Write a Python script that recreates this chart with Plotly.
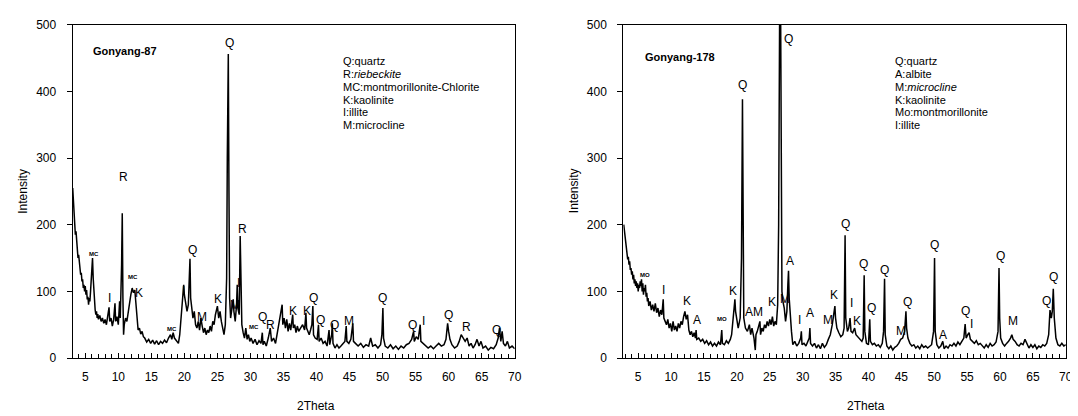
import plotly.graph_objects as go

# ---------------- data: Gonyang-87 (2theta, intensity) ----------------
scan_87 = [
    (3.1, 255), (3.2, 240), (3.3, 215), (3.4, 200), (3.5, 185), (3.6, 190), (3.7, 170), (3.8, 165),
    (3.9, 150), (4.0, 155), (4.1, 140), (4.2, 135), (4.3, 125), (4.4, 128), (4.5, 115), (4.6, 118),
    (4.7, 105), (4.8, 110), (4.9, 100), (5.0, 108), (5.1, 95), (5.2, 102), (5.3, 88), (5.4, 92),
    (5.5, 80), (5.6, 90), (5.7, 85), (5.8, 100), (5.9, 115), (6.0, 135), (6.1, 150), (6.2, 120),
    (6.3, 95), (6.4, 80), (6.5, 72), (6.6, 65), (6.7, 70), (6.8, 60), (6.9, 66), (7.0, 58),
    (7.2, 64), (7.4, 55), (7.6, 60), (7.8, 52), (8.0, 58), (8.2, 50), (8.4, 62), (8.6, 76),
    (8.7, 55), (8.9, 60), (9.1, 48), (9.3, 58), (9.5, 82), (9.6, 55), (9.8, 62), (10.0, 50),
    (10.2, 85), (10.3, 60), (10.5, 140), (10.6, 217), (10.7, 90), (10.8, 35), (10.9, 50), (11.1, 60),
    (11.3, 55), (11.5, 70), (11.7, 80), (11.9, 95), (12.1, 105), (12.3, 98), (12.5, 102), (12.6, 90),
    (12.7, 70), (12.8, 55), (13.0, 42), (13.2, 45), (13.4, 36), (13.6, 40), (13.8, 32), (14.0, 30),
    (14.3, 24), (14.6, 28), (14.9, 22), (15.2, 27), (15.5, 21), (15.8, 26), (16.1, 20), (16.4, 25),
    (16.7, 22), (17.0, 27), (17.3, 23), (17.6, 30), (17.9, 35), (18.1, 28), (18.3, 38), (18.5, 30),
    (18.8, 25), (19.1, 22), (19.3, 35), (19.5, 60), (19.7, 85), (19.9, 110), (20.0, 95), (20.2, 78),
    (20.4, 70), (20.6, 80), (20.8, 120), (20.85, 149), (20.95, 90), (21.1, 75), (21.3, 60), (21.5, 70),
    (21.7, 50), (21.9, 45), (22.1, 55), (22.3, 42), (22.5, 60), (22.7, 48), (22.9, 38), (23.1, 45),
    (23.3, 35), (23.5, 42), (23.7, 38), (23.9, 48), (24.1, 40), (24.3, 55), (24.5, 50), (24.7, 65),
    (24.9, 72), (25.0, 78), (25.2, 60), (25.4, 70), (25.6, 55), (25.8, 45), (26.0, 35), (26.2, 50),
    (26.4, 120), (26.5, 300), (26.65, 456), (26.75, 250), (26.85, 90), (27.0, 60), (27.2, 75), (27.4, 88),
    (27.5, 70), (27.7, 55), (27.9, 80), (28.0, 110), (28.1, 75), (28.3, 65), (28.45, 183), (28.55, 100),
    (28.7, 50), (28.9, 38), (29.1, 30), (29.3, 45), (29.5, 28), (29.7, 35), (29.9, 25), (30.1, 30),
    (30.4, 22), (30.7, 28), (31.0, 20), (31.3, 26), (31.6, 22), (31.8, 38), (31.9, 20), (32.1, 25),
    (32.4, 18), (32.7, 30), (33.0, 45), (33.2, 25), (33.5, 30), (33.8, 22), (34.1, 40), (34.4, 55),
    (34.6, 70), (34.8, 80), (34.9, 50), (35.1, 60), (35.3, 45), (35.5, 58), (35.7, 40), (35.9, 52),
    (36.1, 42), (36.4, 65), (36.5, 45), (36.7, 50), (36.9, 38), (37.1, 48), (37.3, 40), (37.6, 45),
    (37.9, 50), (38.2, 42), (38.4, 68), (38.5, 45), (38.7, 40), (38.9, 35), (39.1, 42), (39.3, 50),
    (39.45, 78), (39.55, 35), (39.8, 30), (40.1, 28), (40.3, 50), (40.4, 25), (40.7, 30), (41.0, 22),
    (41.3, 25), (41.6, 18), (41.9, 42), (42.0, 20), (42.3, 35), (42.4, 52), (42.5, 22), (42.8, 15),
    (43.1, 20), (43.4, 15), (43.7, 18), (44.0, 22), (44.3, 25), (44.5, 48), (44.6, 25), (44.9, 22),
    (45.2, 28), (45.5, 52), (45.6, 25), (45.9, 22), (46.3, 18), (46.7, 22), (47.1, 16), (47.5, 20),
    (47.9, 18), (48.2, 30), (48.5, 18), (48.9, 20), (49.3, 15), (49.7, 20), (49.9, 35), (50.05, 75),
    (50.15, 30), (50.4, 18), (50.8, 15), (51.2, 20), (51.6, 14), (52.0, 18), (52.4, 13), (52.8, 18),
    (53.2, 15), (53.6, 20), (54.0, 22), (54.4, 28), (54.7, 40), (54.8, 25), (55.1, 32), (55.4, 28),
    (55.7, 50), (55.8, 25), (56.1, 22), (56.5, 18), (56.9, 15), (57.3, 18), (57.7, 14), (58.1, 18),
    (58.5, 22), (58.9, 18), (59.3, 20), (59.6, 28), (59.85, 52), (60.0, 40), (60.2, 28), (60.5, 20),
    (60.9, 15), (61.3, 18), (61.6, 25), (61.9, 35), (62.2, 30), (62.5, 25), (62.8, 30), (63.1, 18),
    (63.4, 22), (63.7, 15), (64.0, 20), (64.3, 28), (64.6, 18), (64.9, 25), (65.2, 15), (65.6, 18),
    (66.0, 12), (66.4, 16), (66.8, 14), (67.2, 20), (67.5, 30), (67.7, 45), (67.9, 25), (68.1, 40),
    (68.3, 22), (68.6, 18), (68.9, 25), (69.2, 15), (69.6, 18), (70.0, 14),
]

# ---------------- data: Gonyang-178 (2theta, intensity) ----------------
scan_178 = [
    (2.8, 200), (2.9, 190), (3.0, 180), (3.1, 170), (3.2, 165), (3.3, 160), (3.4, 148), (3.5, 152),
    (3.6, 140), (3.7, 145), (3.8, 132), (3.9, 135), (4.0, 125), (4.1, 130), (4.2, 118), (4.3, 125),
    (4.4, 112), (4.5, 118), (4.6, 108), (4.7, 115), (4.8, 105), (4.9, 112), (5.0, 100), (5.1, 110),
    (5.2, 105), (5.3, 115), (5.4, 108), (5.5, 118), (5.6, 100), (5.7, 112), (5.8, 95), (5.9, 105),
    (6.0, 100), (6.1, 110), (6.2, 92), (6.3, 98), (6.4, 85), (6.5, 90), (6.6, 78), (6.8, 85),
    (7.0, 72), (7.2, 80), (7.4, 70), (7.6, 82), (7.8, 68), (8.0, 75), (8.2, 62), (8.4, 72),
    (8.6, 65), (8.8, 88), (8.9, 60), (9.1, 55), (9.3, 50), (9.5, 58), (9.7, 45), (9.9, 52),
    (10.1, 40), (10.3, 55), (10.5, 42), (10.7, 48), (10.9, 40), (11.1, 52), (11.3, 45), (11.5, 55),
    (11.7, 50), (11.9, 62), (12.1, 70), (12.3, 58), (12.5, 65), (12.7, 42), (12.9, 35), (13.1, 40),
    (13.3, 32), (13.5, 38), (13.7, 30), (13.8, 42), (13.9, 28), (14.2, 30), (14.5, 25), (14.8, 28),
    (15.1, 22), (15.4, 26), (15.7, 20), (16.0, 24), (16.3, 18), (16.6, 22), (16.9, 18), (17.2, 24),
    (17.5, 20), (17.7, 42), (17.8, 22), (18.1, 20), (18.4, 26), (18.7, 22), (19.0, 28), (19.2, 35),
    (19.4, 60), (19.6, 80), (19.7, 88), (19.8, 70), (20.0, 55), (20.2, 45), (20.5, 60), (20.7, 150),
    (20.85, 388), (20.95, 200), (21.05, 60), (21.3, 45), (21.6, 40), (21.9, 50), (22.1, 35), (22.3, 45),
    (22.6, 30), (22.8, 12), (22.9, 35), (23.1, 40), (23.3, 50), (23.5, 55), (23.6, 35), (23.8, 45),
    (24.0, 40), (24.2, 50), (24.4, 45), (24.6, 55), (24.8, 48), (25.0, 58), (25.2, 50), (25.4, 62),
    (25.6, 48), (25.8, 55), (26.0, 50), (26.2, 80), (26.35, 200), (26.5, 520), (26.65, 520), (26.75, 300),
    (26.85, 100), (27.0, 85), (27.2, 75), (27.4, 55), (27.6, 70), (27.75, 110), (27.85, 131), (27.95, 90),
    (28.1, 60), (28.3, 40), (28.5, 20), (28.8, 25), (29.1, 18), (29.4, 22), (29.7, 30), (29.8, 40),
    (29.9, 20), (30.2, 22), (30.5, 18), (30.8, 25), (31.0, 30), (31.1, 45), (31.2, 22), (31.5, 18),
    (31.8, 22), (32.1, 15), (32.4, 20), (32.7, 14), (33.0, 22), (33.3, 16), (33.6, 20), (33.9, 28),
    (34.2, 35), (34.5, 50), (34.7, 65), (34.9, 78), (35.0, 60), (35.2, 45), (35.5, 38), (35.8, 32),
    (36.1, 35), (36.3, 45), (36.45, 184), (36.55, 60), (36.8, 40), (37.0, 45), (37.2, 60), (37.35, 40),
    (37.6, 38), (37.9, 45), (38.1, 35), (38.4, 32), (38.7, 28), (39.0, 25), (39.2, 30), (39.35, 124),
    (39.45, 40), (39.7, 22), (40.0, 20), (40.2, 58), (40.3, 25), (40.6, 20), (40.9, 22), (41.2, 18),
    (41.5, 20), (41.8, 16), (42.1, 22), (42.3, 40), (42.45, 119), (42.55, 35), (42.8, 18), (43.1, 14),
    (43.4, 18), (43.7, 12), (44.0, 16), (44.3, 18), (44.6, 22), (44.9, 28), (45.2, 30), (45.5, 40),
    (45.7, 70), (45.8, 45), (46.0, 30), (46.3, 22), (46.6, 18), (46.9, 20), (47.2, 15), (47.5, 18),
    (47.8, 14), (48.1, 20), (48.4, 16), (48.7, 18), (49.0, 15), (49.3, 18), (49.6, 20), (49.9, 40),
    (50.05, 150), (50.15, 40), (50.4, 20), (50.7, 15), (51.0, 18), (51.3, 25), (51.5, 14), (51.8, 18),
    (52.1, 15), (52.4, 20), (52.7, 18), (53.0, 22), (53.3, 18), (53.6, 24), (53.9, 20), (54.2, 25),
    (54.5, 30), (54.7, 51), (54.85, 30), (55.1, 35), (55.3, 38), (55.5, 28), (55.8, 25), (56.1, 22),
    (56.4, 26), (56.7, 20), (57.0, 22), (57.3, 18), (57.6, 15), (57.9, 20), (58.2, 16), (58.5, 22),
    (58.8, 18), (59.1, 20), (59.4, 24), (59.7, 40), (59.85, 135), (59.95, 60), (60.1, 30), (60.4, 22),
    (60.7, 18), (61.0, 22), (61.3, 25), (61.6, 30), (61.8, 35), (62.0, 28), (62.3, 25), (62.6, 20),
    (62.9, 18), (63.2, 22), (63.5, 20), (63.8, 28), (64.1, 22), (64.4, 15), (64.7, 20), (65.0, 16),
    (65.3, 20), (65.6, 14), (65.9, 18), (66.2, 16), (66.5, 20), (66.8, 18), (67.1, 22), (67.4, 35),
    (67.6, 72), (67.8, 60), (67.95, 70), (68.1, 104), (68.25, 60), (68.5, 30), (68.8, 20), (69.1, 18),
    (69.4, 22), (69.7, 18), (70.0, 20),
]

# ---------------- peak labels ----------------
labels_87 = ["MC", "I", "R", "MC", "K", "MC", "I", "Q", "M", "K", "Q", "M", "I", "R", "MC", "Q", "R",
             "K", "K", "Q", "Q", "Q", "M", "Q", "Q", "I", "Q", "R", "Q"]
label_x_87 = [6.25, 8.7, 10.8, 12.2, 13.2, 18.2, 19.9, 21.3, 22.7, 25.1, 26.9, 27.6, 28.2, 28.8, 30.6,
              31.85, 33.1, 36.4, 38.5, 39.5, 40.6, 42.8, 44.9, 50.0, 54.6, 56.2, 60.0, 62.7, 67.2]
label_y_87 = [156, 90, 272, 122, 98, 44, 101, 162, 62, 88, 472, 80, 112, 194, 46,
              61, 49, 71, 71, 90, 57, 50, 56, 90, 49, 56, 64, 46, 42]

labels_178 = ["MO", "I", "K", "A", "MO", "K", "Q", "AM", "K", "M", "Q", "A", "I", "A", "M", "K", "Q",
              "I", "K", "Q", "Q", "Q", "M", "Q", "Q", "A", "Q", "I", "Q", "M", "Q", "Q"]
label_x_178 = [6.1, 8.9, 12.4, 14.0, 17.7, 19.45, 20.8, 22.6, 25.4, 27.3, 27.8, 28.1, 29.5, 31.05, 33.8,
               34.8, 36.5, 37.5, 38.3, 39.2, 40.5, 42.4, 44.9, 45.9, 50.0, 51.3, 54.7, 55.7, 60.0, 61.9,
               67.1, 68.1]
label_y_178 = [125, 102, 85, 57, 58, 101, 409, 69, 84, 88, 478, 145, 57, 68, 57,
               95, 201, 82, 56, 141, 75, 132, 41, 84, 169, 35, 70, 51, 153, 56, 86, 122]

small_labels = {"MC", "MO"}

legend_87 = ["Q:quartz", "R:<i>riebeckite</i>", "MC:montmorillonite-Chlorite", "K:kaolinite",
             "I:illite", "M:microcline"]
legend_178 = ["Q:quartz", "A:albite", "M:<i>microcline</i>", "K:kaolinite", "Mo:montmorillonite",
              "I:illite"]

x_ticks = [5, 10, 15, 20, 25, 30, 35, 40, 45, 50, 55, 60, 65, 70]
y_ticks = [0, 100, 200, 300, 400, 500]

FONT = "Liberation Sans, Arial, sans-serif"
W, H = 1078, 416

fig = go.Figure()
fig.add_trace(go.Scatter(x=[p[0] for p in scan_87], y=[p[1] for p in scan_87], mode="lines",
                         line=dict(color="black", width=1.5), xaxis="x", yaxis="y", showlegend=False))
fig.add_trace(go.Scatter(x=[p[0] for p in scan_178], y=[p[1] for p in scan_178], mode="lines",
                         line=dict(color="black", width=1.5), xaxis="x2", yaxis="y2", showlegend=False))

left_dom = [65 / W, 510 / W]
right_dom = [619.3 / W, 1064.7 / W]
y_dom = [(H - 355) / H, (H - 10) / H]

xax = dict(showline=True, linecolor="black", linewidth=1, mirror=True, showgrid=False, zeroline=False,
           tickvals=x_ticks, ticks="inside", ticklen=5, tickcolor="black", tickwidth=1,
           ticklabelstandoff=8,
           minor=dict(dtick=1, ticks="inside", ticklen=4, tickcolor="black", tickwidth=1, showgrid=False),
           tickfont=dict(family=FONT, size=12, color="black"))
yax = dict(showline=True, linecolor="black", linewidth=1, mirror=True, showgrid=False, zeroline=False,
           range=[0, 500], tickvals=y_ticks, ticks="outside", ticklen=5, tickcolor="black",
           ticklabelstandoff=8,
           tickfont=dict(family=FONT, size=12, color="black"))

fig.update_layout(
    width=W, height=H, margin=dict(l=0, r=0, t=0, b=0),
    paper_bgcolor="white", plot_bgcolor="white",
    xaxis=dict(xax, domain=left_dom, range=[3.08, 70], anchor="y"),
    yaxis=dict(yax, domain=y_dom, anchor="x"),
    xaxis2=dict(xax, domain=right_dom, range=[2.73, 70], anchor="y2"),
    yaxis2=dict(yax, domain=y_dom, anchor="x2"),
)

ann = []
for labs, lx, ly, xr, yr in [(labels_87, label_x_87, label_y_87, "x", "y"),
                             (labels_178, label_x_178, label_y_178, "x2", "y2")]:
    for t, x, y in zip(labs, lx, ly):
        small = t in small_labels
        ann.append(dict(x=x, y=y, xref=xr, yref=yr, showarrow=False,
                        text=f"<b>{t}</b>" if small else t,
                        font=dict(family=FONT, size=6 if small else 12, color="black")))

# panel titles
ann.append(dict(x=84 / W, y=(H - 37) / H, xref="paper", yref="paper", xanchor="left", yanchor="middle",
                text="<b>Gonyang-87</b>", showarrow=False, font=dict(family=FONT, size=11, color="black")))
ann.append(dict(x=639 / W, y=(H - 43) / H, xref="paper", yref="paper", xanchor="left", yanchor="middle",
                text="<b>Gonyang-178</b>", showarrow=False, font=dict(family=FONT, size=11, color="black")))
# mineral keys, one line each
for x0, lines in [(335, legend_87), (891, legend_178)]:
    for i, t in enumerate(lines):
        ann.append(dict(x=x0 / W, y=(H - (48 + 13.2 * i)) / H, xref="paper", yref="paper",
                        xanchor="left", yanchor="middle", text=t, showarrow=False,
                        font=dict(family=FONT, size=11, color="black")))
# axis titles
for xc in [15, 570]:
    ann.append(dict(x=xc / W, y=(H - 182) / H, xref="paper", yref="paper", xanchor="center",
                    yanchor="middle", text="Intensity", textangle=-90, showarrow=False,
                    font=dict(family=FONT, size=12, color="black")))
for xc in [310, 864]:
    ann.append(dict(x=xc / W, y=(H - 405) / H, xref="paper", yref="paper", xanchor="center",
                    yanchor="middle", text="2Theta", showarrow=False,
                    font=dict(family=FONT, size=12, color="black")))

fig.update_layout(annotations=ann)
fig.write_html("out.html")
